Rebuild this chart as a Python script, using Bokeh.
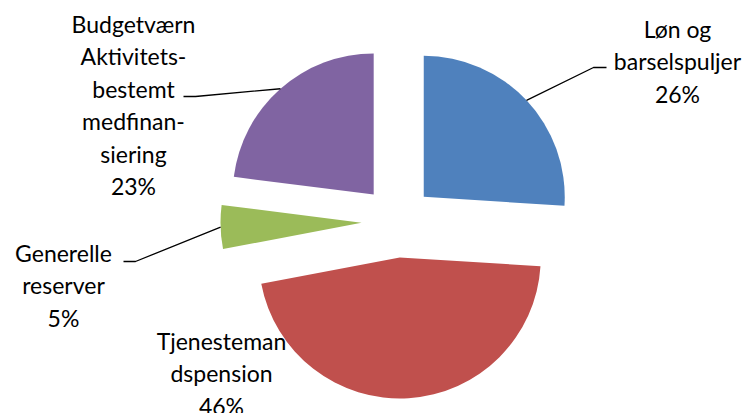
import numpy as np
from bokeh.plotting import figure
from bokeh.models import Range1d, ColumnDataSource
from bokeh.core.properties import value
from bokeh.embed import file_html
from bokeh.resources import INLINE

# ---- data ----
categories = ["Løn og barselspuljer", "Tjenestemandspension",
              "Generelle reserver", "Budgetværn Aktivitetsbestemt medfinansiering"]
label_lines = [["Løn og", "barselspuljer"],
               ["Tjenesteman", "dspension"],
               ["Generelle", "reserver"],
               ["Budgetværn", "Aktivitets-", "bestemt", "medfinan-", "siering"]]
shares = [26, 46, 5, 23]
colors = ["#4F81BD", "#C0504D", "#9BBB59", "#8064A2"]

# ---- layout (reference pixel coords, y measured from top) ----
W, H = 750, 413
CX, CY = 397, 221          # pie centre
R = 141                    # radius
EXPLODE = 36               # explosion distance
FONT = "Lato"
FSIZE = "23px"
LINE_H = 32.5
# label anchor: (centre x, first baseline y)
label_pos = [(677, 28), (221, 340), (63, 252), (133, 23)]
# leader lines: label-side points (knee, end) or None
leaders = [[(593, 67), (606, 67)], None, [(135, 261), (123, 261)], [(195, 96), (183, 96)]]

def Y(y):
    return H - y

p = figure(width=W, height=H, x_range=Range1d(0, W), y_range=Range1d(0, H),
           output_backend="svg", toolbar_location=None, min_border=0,
           x_axis_location=None, y_axis_location=None)
p.grid.visible = False
p.outline_line_color = None
p.background_fill_color = "white"
p.border_fill_color = "white"

vals = np.array(shares, dtype=float)
frac = vals / vals.sum()
cum = np.concatenate([[0], np.cumsum(frac)[:-1]])
a0 = np.pi / 2 - 2 * np.pi * cum
a1 = a0 - 2 * np.pi * frac
mid = (a0 + a1) / 2
xs = CX + EXPLODE * np.cos(mid)
ys = Y(CY) + EXPLODE * np.sin(mid)

src = ColumnDataSource(dict(x=xs, y=ys, start=a0, end=a1, color=colors, cat=categories))
p.wedge(x="x", y="y", radius=R, start_angle="start", end_angle="end",
        direction="clock", fill_color="color", line_color=None, source=src)

# leader lines
lx, ly = [], []
for i, ld in enumerate(leaders):
    if ld is None:
        continue
    sx = xs[i] + R * np.cos(mid[i])
    sy = ys[i] + R * np.sin(mid[i])
    lx.append([sx] + [pt[0] for pt in ld])
    ly.append([sy] + [Y(pt[1]) for pt in ld])
p.multi_line(xs=lx, ys=ly, line_color="black", line_width=1.3)

# labels
tx, ty, tt = [], [], []
for i, lines in enumerate(label_lines):
    allines = lines + [f"{shares[i]}%"]
    x0, y0 = label_pos[i]
    for k, t in enumerate(allines):
        tx.append(x0)
        ty.append(Y(y0 + k * LINE_H))
        tt.append(t)
p.text(x=tx, y=ty, text=tt, text_align="center", text_baseline="alphabetic",
       text_font=value(FONT), text_font_size=FSIZE, text_color="black")

open("out.html", "w").write(file_html(p, INLINE))
